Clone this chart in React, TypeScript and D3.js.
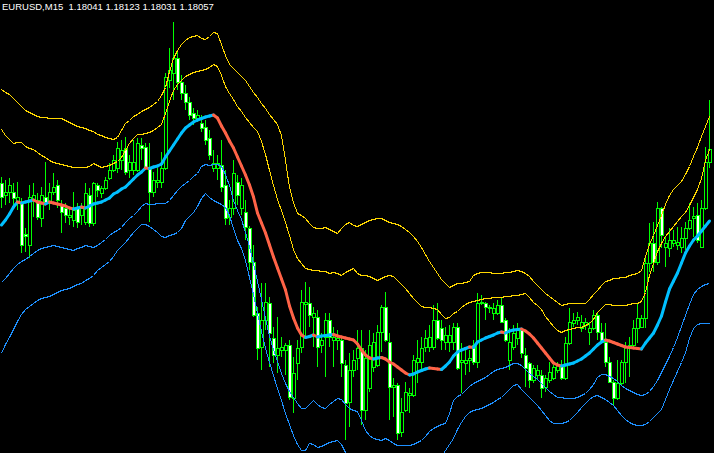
import * as React from "react";
import * as d3 from "d3";

// header of the chart window
const SYMBOL = "EURUSD,M15";
const LAST_BAR = ["1.18041", "1.18123", "1.18031", "1.18057"];

// all series are stored as points (0.00001) above BASE
const BASE = 1.1777;
const POINT = 0.00001;

const open = [
  270, 258, 261, 261, 250, 250, 219, 208, 253, 253,
  235, 256, 250, 261, 268, 248, 245, 236, 233, 245,
  238, 231, 258, 230, 268, 260, 265, 275, 283, 285,
  293, 305, 283, 283, 283, 308, 306, 286, 261, 271,
  271, 285, 373, 380, 395, 371, 360, 351, 340, 335,
  330, 326, 315, 285, 285, 288, 268, 236, 245, 271,
  245, 241, 225, 191, 140, 106, 133, 150, 115, 98,
  103, 103, 108, 55, 90, 106, 149, 150, 136, 136,
  108, 116, 133, 113, 113, 113, 88, 51, 83, 95,
  105, 43, 65, 86, 88, 121, 146, 111, 66, 68,
  21, 43, 58, 58, 91, 91, 106, 106, 106, 133,
  125, 111, 111, 111, 126, 91, 90, 93, 108, 91,
  150, 150, 145, 140, 140, 148, 133, 93, 106, 115,
  123, 98, 90, 73, 78, 78, 66, 73, 75, 83,
  88, 75, 110, 130, 133, 125, 128, 121, 125, 138,
  121, 111, 91, 71, 55, 70, 91, 106, 108, 125,
  126, 135, 190, 210, 191, 245, 206, 205, 210, 208,
  206, 215, 225, 235, 238, 206, 245, 291,
];
const close = [
  256, 261, 268, 255, 256, 208, 217, 256, 258, 236,
  258, 251, 261, 266, 253, 241, 238, 238, 243, 231,
  245, 260, 230, 270, 263, 265, 273, 283, 293, 305,
  303, 281, 291, 291, 310, 305, 286, 261, 273, 273,
  285, 376, 383, 395, 371, 360, 351, 338, 335, 338,
  325, 313, 298, 290, 290, 266, 235, 245, 280, 258,
  268, 226, 191, 138, 105, 133, 151, 120, 98, 105,
  106, 108, 56, 80, 105, 151, 151, 138, 140, 106,
  113, 133, 116, 116, 115, 90, 50, 83, 93, 105,
  43, 95, 108, 111, 121, 146, 113, 66, 68, 20,
  41, 61, 60, 93, 95, 105, 115, 116, 133, 115,
  113, 118, 118, 126, 85, 93, 93, 95, 91, 150,
  151, 146, 146, 145, 148, 131, 113, 111, 120, 123,
  100, 85, 73, 85, 83, 65, 75, 81, 86, 88,
  75, 110, 131, 133, 136, 131, 131, 125, 138, 121,
  111, 91, 71, 55, 70, 91, 106, 108, 125, 135,
  135, 190, 210, 191, 245, 218, 210, 213, 213, 211,
  215, 225, 233, 237, 213, 245, 291, 304,
];
const high = [
  276, 273, 275, 270, 271, 255, 225, 268, 270, 260,
  266, 291, 270, 280, 273, 253, 250, 246, 261, 250,
  250, 270, 265, 271, 270, 267, 276, 290, 298, 311,
  313, 316, 298, 313, 315, 315, 310, 310, 281, 285,
  301, 380, 405, 431, 403, 378, 368, 356, 345, 343,
  338, 333, 323, 303, 298, 313, 283, 253, 293, 278,
  275, 253, 227, 208, 146, 170, 170, 156, 126, 136,
  116, 110, 113, 96, 113, 163, 171, 166, 146, 143,
  120, 140, 140, 126, 123, 116, 93, 100, 103, 123,
  123, 103, 123, 120, 128, 148, 161, 120, 75, 70,
  55, 71, 65, 98, 113, 116, 123, 128, 148, 150,
  133, 126, 128, 130, 130, 110, 103, 103, 113, 160,
  158, 151, 148, 150, 153, 155, 135, 125, 128, 130,
  125, 105, 91, 88, 88, 83, 78, 91, 88, 91,
  93, 116, 145, 140, 141, 138, 135, 131, 143, 141,
  130, 130, 96, 73, 93, 93, 111, 116, 133, 150,
  138, 196, 230, 231, 251, 246, 216, 225, 223, 226,
  226, 231, 250, 246, 250, 253, 306, 353,
];
const low = [
  245, 248, 250, 246, 243, 200, 201, 195, 236, 233,
  226, 248, 243, 258, 245, 220, 230, 228, 226, 225,
  228, 228, 226, 227, 256, 255, 263, 273, 281, 280,
  283, 278, 275, 278, 281, 293, 283, 231, 256, 265,
  265, 283, 365, 353, 363, 353, 343, 333, 328, 331,
  321, 308, 293, 281, 273, 261, 228, 228, 238, 248,
  238, 213, 183, 136, 93, 83, 123, 86, 90, 80,
  96, 78, 53, 40, 73, 100, 116, 126, 106, 86,
  100, 76, 106, 86, 103, 76, 13, 26, 76, 83,
  28, 33, 61, 81, 86, 101, 111, 33, 36, 13,
  16, 41, 40, 56, 70, 83, 101, 101, 103, 113,
  103, 103, 101, 103, 83, 60, 78, 81, 88, 85,
  148, 133, 140, 133, 138, 130, 111, 83, 103, 108,
  95, 66, 65, 70, 73, 55, 61, 70, 73, 80,
  73, 73, 108, 126, 128, 121, 123, 108, 123, 113,
  110, 86, 70, 48, 53, 68, 70, 76, 106, 110,
  125, 125, 181, 181, 188, 205, 186, 196, 206, 203,
  200, 203, 223, 216, 210, 205, 243, 285,
];

// channel indicator
const midLine = [
  228, 233, 239, 246, 251, 250, 251, 252, 253, 251,
  250, 249, 251, 250, 249, 248, 247, 245, 244, 245,
  246, 245, 247, 249, 250, 251, 253, 255, 259, 261,
  264, 266, 270, 274, 278, 281, 285, 284.5, 286, 287,
  289, 296, 302, 308, 314, 320, 325, 328, 331, 333,
  334.5, 336, 337, 338, 335, 327, 320, 312, 305, 296,
  287, 278, 268, 256, 240, 230, 220, 208, 196, 185,
  174, 163, 147, 135, 125, 118, 115.5, 116.5, 118, 116,
  117, 117.5, 118, 118.5, 117, 116, 115, 114, 113, 109,
  103, 98, 95, 94, 95, 95.5, 94, 91, 89, 86,
  83, 80, 78, 79, 81, 82.5, 84, 85, 84.5, 84,
  83.5, 87, 91, 97, 101, 103, 104.5, 106, 105.5, 111,
  113, 115, 116.5, 118, 120, 121, 120, 122, 123, 123.5,
  124, 122, 119, 115, 110, 105, 100, 95, 90, 88,
  87, 88, 89, 90, 92, 94, 97, 100, 104, 108,
  111, 113, 112, 110.5, 109, 107.5, 106, 105.5, 105, 104.5,
  104, 110, 115, 120, 128, 137, 151, 164, 172, 180,
  190, 200, 207, 213, 217, 222, 227, 232,
];
const upperOuter = [
  364, 361, 359, 355, 351, 347, 343, 341, 339, 337,
  336, 335.5, 335, 335, 335, 335, 333, 331, 329, 327,
  326, 325, 323, 322, 319, 318, 316, 315, 314, 316,
  323, 330, 333, 337, 339, 342, 344, 346, 349, 352,
  358, 366, 382, 395, 403, 409, 413, 416, 417, 418,
  415, 414, 417, 421, 420, 409, 398, 389, 385, 381,
  377, 373, 367, 361, 356, 350, 345, 339, 334, 329,
  318, 293, 266, 251, 240, 238, 235, 230, 226, 225,
  225, 226, 224, 222, 220, 225, 229, 231, 228, 227,
  229, 231, 233, 234, 235, 235, 233, 231, 230, 229,
  227, 224, 221, 217, 212, 206, 199, 192, 186, 180,
  174, 170, 166, 168, 170, 170, 171, 172, 178, 180,
  181, 181, 180.5, 180, 180, 180, 181, 181, 182, 183,
  182, 180, 177, 172, 168, 164, 160, 157, 154, 151,
  148, 149, 150, 150, 150, 150, 150, 154, 159, 163,
  168, 172, 173, 175, 175, 176, 176, 178, 179, 180,
  183, 197, 209, 218, 228, 238, 249, 258, 264, 268,
  272, 279, 287, 297, 306, 317, 327, 337,
];
const upperInner = [
  324, 318, 314, 310, 311, 311, 307, 305, 304, 301,
  298, 296, 293, 291, 290, 289, 288, 287, 286, 286,
  286, 286, 287, 290, 288, 286, 287, 288, 290, 292,
  296, 303, 310, 315, 319, 319, 320, 321, 323, 326,
  329, 340, 352, 363, 369, 373, 377, 379, 381, 382,
  383, 384, 386, 389, 387, 378, 367, 360, 354, 347,
  342, 336, 331, 326, 322, 312, 299, 283, 268, 254,
  243, 231, 218, 204, 195, 190, 185, 184, 183, 183,
  182, 182, 180, 181, 180, 178, 181, 183, 185, 180,
  178, 178, 177, 175, 173, 175, 177, 178, 177, 173,
  169, 165, 160, 155, 151, 147, 146, 145.5, 145, 144,
  139, 135, 136, 140, 142, 146, 149, 151, 152, 153,
  154, 155, 155, 156, 156, 156, 157, 157, 157.5, 158,
  159, 160, 156, 151, 148, 144, 137, 132, 127, 123,
  121, 123, 124, 125, 125.5, 126, 128, 130, 134, 141,
  145, 149, 149, 148, 148, 148, 148, 149, 149.5, 150,
  152, 161, 178, 190, 202, 210, 217, 222, 227, 232,
  237, 241, 248, 256, 264, 275, 293, 304,
];
const lowerInner = [
  171, 175, 180, 185, 189, 192, 194, 197, 200, 203,
  205, 206, 207, 208, 207, 206, 205, 204, 203, 205,
  206, 208, 207, 206, 208, 211, 214, 218, 221, 223,
  226, 231, 235, 238, 242, 247, 250, 249, 249, 250,
  250, 250, 253, 258, 263, 267, 270, 273, 277, 280,
  287, 289, 288, 289, 289, 287, 279, 268, 253, 243,
  234, 221, 207, 190, 172, 154, 135, 117, 104, 92,
  80, 70, 62, 56, 50, 45, 45, 49, 53, 49,
  46, 45, 49, 52, 55, 54, 49, 45, 43, 42,
  33, 23, 18, 15, 14, 13, 15, 13, 10, 8,
  8, 8, 8, 9, 11, 13, 17, 22, 25, 27,
  29, 30, 40, 53, 57, 59, 63, 67, 70, 72,
  74, 76, 79, 82, 84, 85, 86, 88, 90, 90,
  88, 84, 80, 77, 74, 70, 66, 62, 59, 56,
  56, 55, 55, 55, 56, 58, 60, 64, 69, 76,
  79, 79, 77, 75, 72, 68, 65, 63, 61, 59,
  58, 59, 62, 67, 73, 81, 89, 97, 106, 116,
  127, 138, 149, 159, 164, 167, 169, 170,
];
const lowerOuter = [
  100, 109, 116, 124, 132, 139, 144, 147, 150, 153,
  155, 156, 157, 159, 161, 163, 164, 165, 167, 169,
  170, 173, 175, 178, 183, 186, 189, 192, 197, 203,
  207, 211, 216, 221, 225, 229, 229, 227, 224, 221,
  217, 216, 218, 219, 221, 225, 233, 237, 241, 247,
  255, 260, 256, 253, 251, 249, 246, 238, 225, 213,
  205, 193, 176, 159, 140, 122, 105, 91, 78, 65,
  53, 40, 29, 18, 9, 3, 3, 10, 9, 6,
  7, 9, 11, 12, 13, 9, 1, -5, -9, -12,
  -15, -17, -19, -20, -21, -21, -21, -21, -21, -21,
  -21, -20, -19, -17, -15, -13, -11, -9, -7, -5,
  -3, 3, 9, 15, 24, 31, 37, 41, 43, 44,
  45, 47, 49, 51, 54, 56, 60, 64, 68, 69,
  64, 60, 56, 52, 48, 43, 38, 33, 30, 30,
  30, 31, 33, 37, 41, 46, 50, 54, 57, 58,
  56, 54, 51, 48, 43, 38, 34, 31, 29, 28,
  28, 29, 32, 36, 40, 44, 54, 64, 73, 82,
  91, 101, 115, 125, 129, 130, 130, 130,
];

const W = 714;
const H = 453;
const GREEN = "#00ff00";
const UP_COLOR = "#00bfff";
const DOWN_COLOR = "#ff6347";
const UPPER_COLOR = "#ffd700";
const LOWER_COLOR = "#1e90ff";

export default function App() {
  const n = close.length;
  const x = d3.scaleLinear().domain([0, n - 1]).range([1, 709]);
  const y = d3.scaleLinear().domain([BASE, BASE + H * POINT]).range([H, 0]);
  const py = (v: number) => y(BASE + v * POINT);

  const band = d3
    .line<number>()
    .x((_, i) => x(i) + 0.5)
    .y((v) => Math.round(py(v)) + 0.5);

  const bands = [
    { data: upperOuter, color: UPPER_COLOR },
    { data: upperInner, color: UPPER_COLOR },
    { data: lowerInner, color: LOWER_COLOR },
    { data: lowerOuter, color: LOWER_COLOR },
  ];

  return (
    <svg
      width={W}
      height={H}
      style={{ position: "absolute", left: 0, top: 0, display: "block" }}
    >
      <rect width={W} height={H} fill="#000" />

      {close.map((c, i) => {
        const o = open[i];
        const cx = Math.round(x(i));
        const top = Math.round(py(Math.max(o, c)));
        const bot = Math.round(py(Math.min(o, c)));
        return (
          <g key={i} shapeRendering="crispEdges">
            <line
              x1={cx + 0.5}
              x2={cx + 0.5}
              y1={Math.round(py(high[i]))}
              y2={Math.round(py(low[i]))}
              stroke={GREEN}
            />
            {bot - top < 1 ? (
              <line
                x1={cx - 1}
                x2={cx + 3}
                y1={top + 0.5}
                y2={top + 0.5}
                stroke={GREEN}
              />
            ) : (
              <rect
                x={cx - 0.5}
                y={top + 0.5}
                width={3}
                height={bot - top}
                fill={c > o ? "#000" : "#fff"}
                stroke={GREEN}
              />
            )}
          </g>
        );
      })}

      {bands.map((b, k) => (
        <path
          key={k}
          d={band(b.data) || ""}
          fill="none"
          stroke={b.color}
          strokeWidth={1}
          shapeRendering="crispEdges"
        />
      ))}

      {midLine.slice(1).map((v, k) => {
        const prev = midLine[k];
        return (
          <line
            key={k}
            x1={x(k) + 0.5}
            y1={py(prev)}
            x2={x(k + 1) + 0.5}
            y2={py(v)}
            stroke={v >= prev ? UP_COLOR : DOWN_COLOR}
            strokeWidth={3}
            strokeLinecap="round"
          />
        );
      })}

      <text
        x={2}
        y={10}
        fill="#fff"
        fontFamily="'Liberation Sans', Arial, sans-serif"
        fontSize={9.5}
        style={{ whiteSpace: "pre" }}
      >
        {`${SYMBOL}  ${LAST_BAR.join(" ")}`}
      </text>
    </svg>
  );
}
